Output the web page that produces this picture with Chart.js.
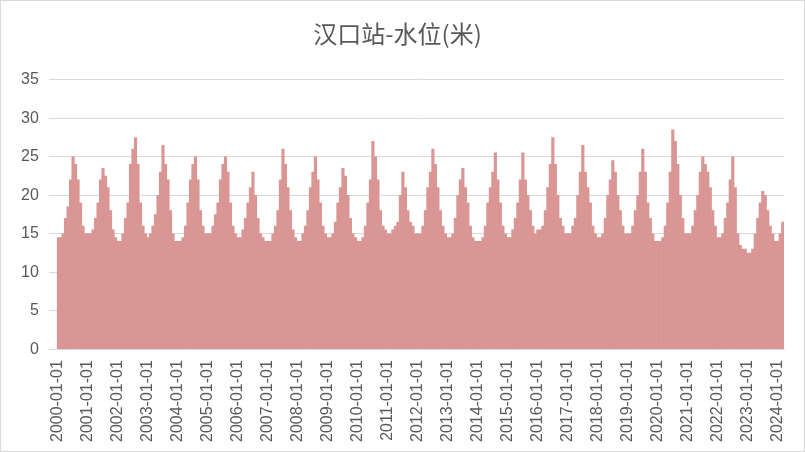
<!DOCTYPE html>
<html><head><meta charset="utf-8">
<script src="https://cdn.jsdelivr.net/npm/chart.js@4"></script>
<style>html,body{margin:0;padding:0;background:#fff}#w{width:803px;height:450px;border:1px solid #d9d9d9}</style>
</head><body><div id="w"><canvas id="c"></canvas></div>
<script>
// Monthly water levels (m), Hankou station, 2000-01 .. 2024-03
const y2000=[14.5,14.5,15,17,18.5,22,25,24,22,19,16,15];
const y2001=[15,15,15.5,17,19,22,23.5,22.5,21,18,15.5,14.5];
const y2002=[14,14,15,17,19,24,26,27.5,24,19,16,15];
const y2003=[14.5,15,16,17.5,20,23,26.5,24,22,18,15,14];
const y2004=[14,14,14.5,16,19,22,24,25,22,18,16,15];
const y2005=[15,15,16,17.5,19,22,24,25,23,19,16,15];
const y2006=[14.5,14.5,15.5,17,19,21,23,20,17,15,14.5,14];
const y2007=[14,14,15,16,18,22,26,24,21,18,15.5,14.5];
const y2008=[14,14,15,16,18,21,23,25,22,19,16,15];
const y2009=[14.5,14.5,15,16.5,19,21,23.5,22.5,20,17,15,14.5];
const y2010=[14,14,14.5,16,19,22,27,25,22,18,16,15.5];
const y2011=[15,15,15.5,16,16.5,20,23,21,18,16.5,16,15];
const y2012=[15,15,16,18,21,23,26,24,21,18,16,15];
const y2013=[14.5,14.5,15,17,20,22,23.5,21,19,16,14.5,14];
const y2014=[14,14,14.5,16,19,21,23,25.5,22,19,16,15];
const y2015=[14.5,14.5,15.5,17,19,22,25.5,22,20,18,16,15];
const y2016=[15.5,15.5,16,18,21,24,27.5,24,20,17,16,15];
const y2017=[15,15,16,17,20,23,26.5,23,21,19,16,15];
const y2018=[14.5,14.5,15,17,20,22,24.5,23,20,18,16,15];
const y2019=[15,15,16,18,20,23,26,23,19,17,15,14];
const y2020=[14,14,14.5,16,19,23,28.5,27,24,20,17,15];
const y2021=[15,15,16,18,20,23,25,24,23,21,18,16];
const y2022=[14.5,14.5,15,17,19,22,25,21,15,13.5,13,13];
const y2023=[12.5,12.5,13,15,17,19,20.5,20,18,16,15,14];
const y2024=[14,15,16.5];
const years=[y2000,y2001,y2002,y2003,y2004,y2005,y2006,y2007,y2008,y2009,y2010,y2011,y2012,y2013,y2014,y2015,y2016,y2017,y2018,y2019,y2020,y2021,y2022,y2023,y2024];
const yTicks=[0,5,10,15,20,25,30,35];

const labels=[],values=[];
years.forEach((arr,i)=>arr.forEach((v,m)=>{labels.push((2000+i)+'-'+String(m+1).padStart(2,'0')+'-01');values.push(v);}));

new Chart(document.getElementById('c'),{
 type:'bar',
 data:{labels,datasets:[{data:values,backgroundColor:'#d99694',borderWidth:0,barPercentage:1,categoryPercentage:1}]},
 options:{responsive:true,maintainAspectRatio:false,animation:false,
  layout:{padding:{left:10,right:20,top:12,bottom:6}},
  plugins:{legend:{display:false},tooltip:{enabled:false},
   title:{display:true,text:'汉口站-水位(米)',color:'#595959',font:{size:24,family:'Noto Sans CJK SC',weight:'normal'},padding:{top:6,bottom:32}}},
  scales:{
   x:{grid:{display:false},border:{color:'#d9d9d9'},
    ticks:{autoSkip:false,maxRotation:90,minRotation:90,color:'#595959',font:{size:16,family:'Liberation Sans'},
     callback:function(v,i){const l=labels[i];return l.slice(5,7)==='01'?l:null;}}},
   y:{min:0,max:35,afterBuildTicks:a=>{a.ticks=yTicks.map(v=>({value:v}));},
    grid:{color:'#d9d9d9'},border:{display:false},
    ticks:{color:'#595959',font:{size:16,family:'Liberation Sans'},padding:10}}
  }}
});
</script></body></html>
